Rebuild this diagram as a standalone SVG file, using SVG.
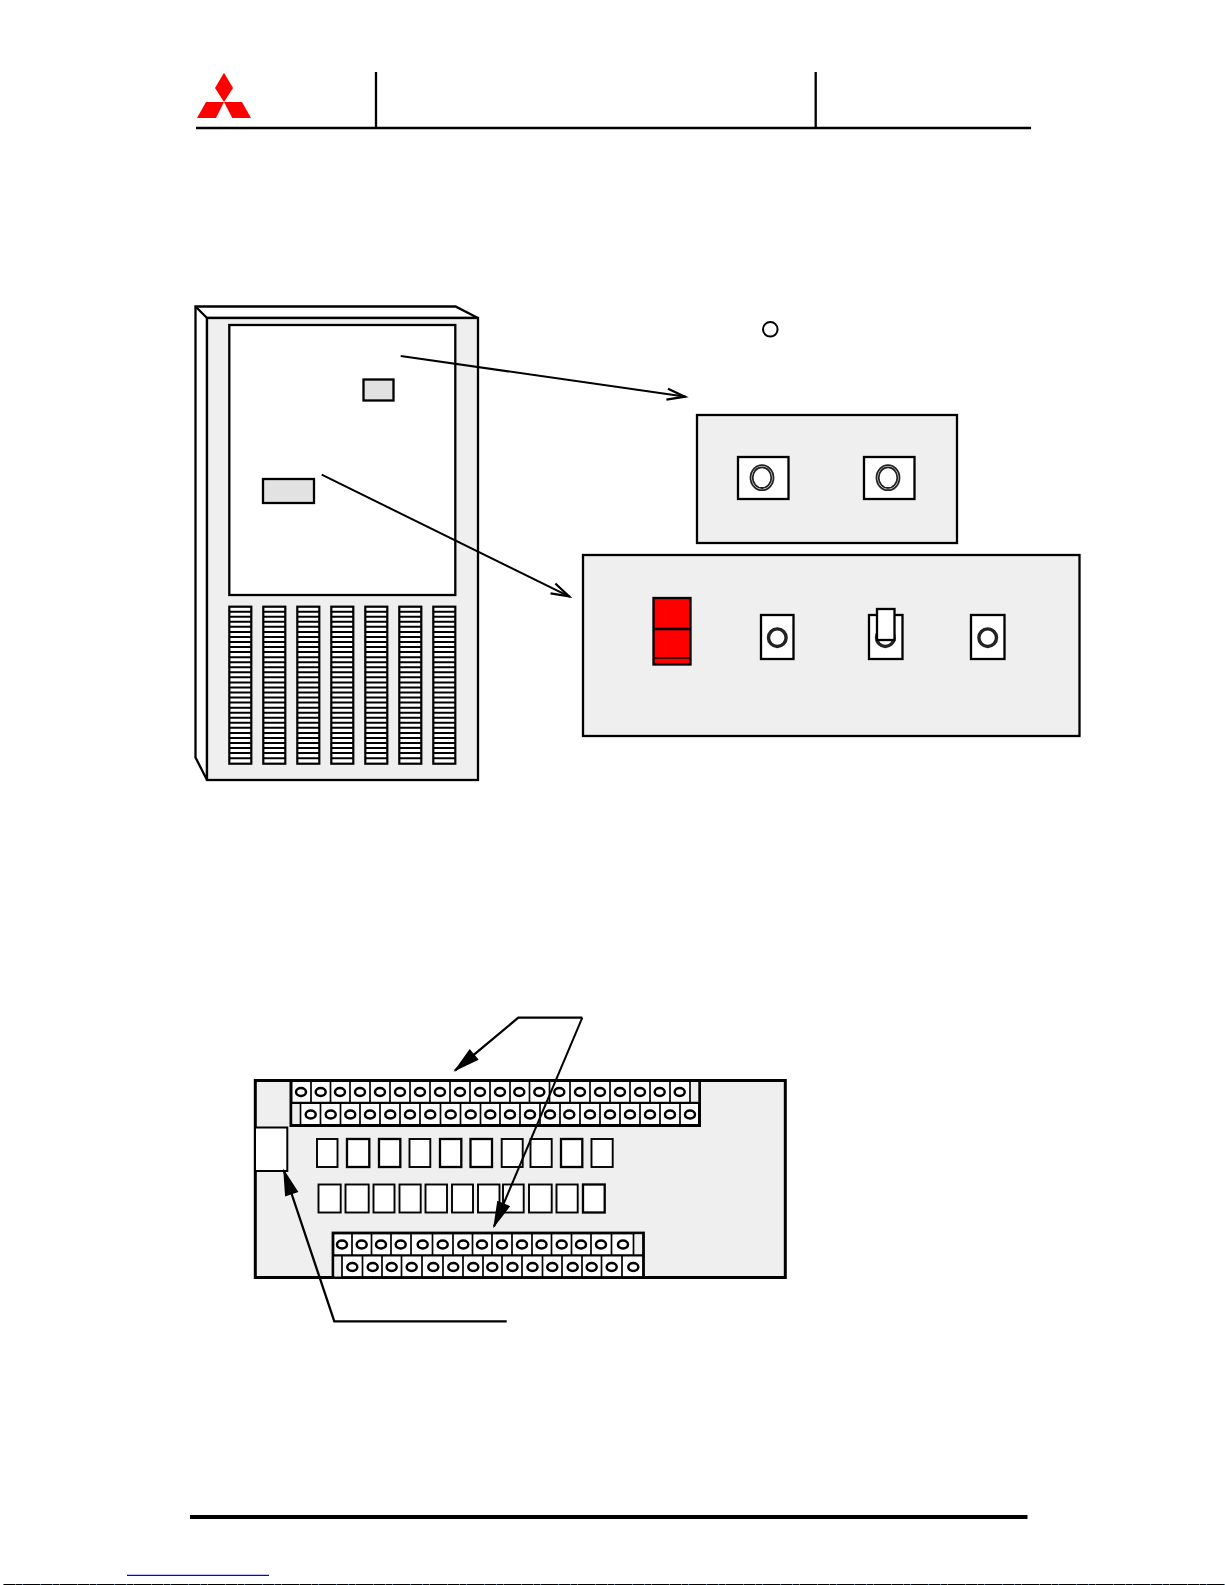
<svg xmlns="http://www.w3.org/2000/svg" xmlns:xlink="http://www.w3.org/1999/xlink" width="1225" height="1585" viewBox="0 0 1225 1585">
<style>
.ln{fill:none;stroke:#000;stroke-width:2.3}
.pn{fill:#efefef;stroke:#000;stroke-width:2.3}
.wh{fill:#fff;stroke:#000;stroke-width:2.3}
.th{fill:#fff;stroke:#000;stroke-width:1.9}
.lg{fill:#e2e2e2;stroke:#000;stroke-width:2.3}
.hole{fill:#fff;stroke:#000;stroke-width:2.5}
.div{fill:none;stroke:#000;stroke-width:1.7}
.ring{fill:none;stroke:#222;stroke-width:1.8}
.ring2{fill:#fff;stroke:#222;stroke-width:3.4}
.logo{fill:#f00}
.ar{fill:none;stroke:#000;stroke-width:2}
.arw{fill:none;stroke:#000;stroke-width:2.3}
</style>
<defs>
<marker id="open" markerUnits="userSpaceOnUse" markerWidth="30" markerHeight="20" refX="0" refY="0" orient="auto" overflow="visible" viewBox="-26 -10 30 20"><path d="M-19,-5.5 L-1,0 L-19,5.5" fill="none" stroke="#000" stroke-width="2.2"/></marker>
<marker id="solid" markerUnits="userSpaceOnUse" markerWidth="34" markerHeight="24" refX="0" refY="0" orient="auto" overflow="visible" viewBox="-29 -12 34 24"><path d="M-25,-7 L2,0 L-25,7 Z" fill="#000"/></marker>
<g id="vent"><rect x="0" y="0" width="22" height="157" fill="#fff" stroke="#000" stroke-width="2.2"/><line x1="11" y1="4" x2="11" y2="155" stroke="#000" stroke-width="22" stroke-dasharray="2 3.05"/></g>
<ellipse id="h" rx="5" ry="4" class="hole"/>
<g id="sw"><ellipse rx="11.5" ry="12.5" class="ring"/><ellipse rx="9.3" ry="10.3" class="ring"/></g>
</defs>
<rect width="1225" height="1585" fill="#fff"/>

<g id="header">
<path class="logo" d="M224,72.7 L233,88 L224,102 L215,88 Z"/>
<path class="logo" d="M206,102 L224,102 L216,118 L197,118 Z"/>
<path class="logo" d="M224,102 L242,102 L251,118 L232.3,118 Z"/>
<path class="ln" d="M196,128 H1031 M376,72 V128 M815.7,72 V128"/>
</g>

<g id="cabinet">
<path class="wh" d="M195.5,306.5 H455.5 L478,318 H207 V780 L195.5,757.5 Z"/>
<path class="ln" d="M195.5,306.5 L207,318"/>
<rect class="pn" x="207" y="318" width="271" height="462"/>
<rect class="wh" x="229.3" y="325" width="226" height="270"/>
<rect class="lg" x="363.5" y="379.5" width="30" height="21"/>
<rect class="lg" x="263" y="479" width="51" height="24"/>
<use xlink:href="#vent" href="#vent" x="229.3" y="606.7"/>
<use xlink:href="#vent" href="#vent" x="263.3" y="606.7"/>
<use xlink:href="#vent" href="#vent" x="297.3" y="606.7"/>
<use xlink:href="#vent" href="#vent" x="331.3" y="606.7"/>
<use xlink:href="#vent" href="#vent" x="365.3" y="606.7"/>
<use xlink:href="#vent" href="#vent" x="399.3" y="606.7"/>
<use xlink:href="#vent" href="#vent" x="433.3" y="606.7"/>
</g>

<g id="lamp"><circle cx="770.3" cy="329.3" r="7.3" fill="#fff" stroke="#000" stroke-width="2"/></g>

<g id="panel-upper">
<rect class="pn" x="697" y="415" width="260" height="128"/>
<rect class="wh" x="738" y="457" width="50.5" height="42"/>
<use xlink:href="#sw" href="#sw" x="762" y="477.7"/>
<rect class="wh" x="864" y="457" width="50.5" height="42"/>
<use xlink:href="#sw" href="#sw" x="888" y="477.7"/>
</g>

<g id="panel-lower">
<rect class="pn" x="583" y="555" width="496.5" height="181"/>
<rect x="653.5" y="598" width="37" height="66.5" fill="#f00" stroke="#000" stroke-width="2.3"/>
<path class="ln" d="M653.5,629 H690.5"/>
<path fill="none" stroke="#000" stroke-width="1.5" d="M653.5,658 H690.5"/>
<rect class="wh" x="761" y="615" width="32.5" height="44"/>
<circle class="ring2" cx="777.3" cy="637.7" r="8.8"/>
<rect class="wh" x="869" y="615" width="33.5" height="44"/>
<circle class="ring2" cx="885.3" cy="637.7" r="8.8"/>
<rect class="wh" x="877" y="609" width="17.5" height="31"/>
<rect class="wh" x="971" y="615" width="33.5" height="44"/>
<circle class="ring2" cx="987.7" cy="637.7" r="8.8"/>
</g>

<g id="terminal-board">
<rect fill="#efefef" stroke="#000" stroke-width="3" x="255.3" y="1080.5" width="530" height="197"/>
<rect fill="#fff" stroke="#000" stroke-width="2" x="255" y="1127.5" width="32.3" height="43.5"/>
<rect class="th" x="317" y="1139" width="20.5" height="28"/>
<rect class="wh" x="347" y="1139" width="22.3" height="28"/>
<rect class="wh" x="379" y="1139" width="21.3" height="28"/>
<rect class="th" x="409.5" y="1139" width="20.8" height="28"/>
<rect class="wh" x="440" y="1139" width="21.3" height="28"/>
<rect class="wh" x="470.5" y="1139" width="21.5" height="28"/>
<rect class="th" x="501.7" y="1139" width="21" height="28"/>
<rect class="th" x="530.5" y="1139" width="21.2" height="28"/>
<rect class="wh" x="561" y="1139" width="21.3" height="28"/>
<rect class="th" x="591.5" y="1139" width="21.2" height="28"/>
<rect class="th" x="318.5" y="1184.5" width="22.2" height="28"/>
<rect class="th" x="345.5" y="1184.5" width="23.2" height="28"/>
<rect class="th" x="373.5" y="1184.5" width="21" height="28"/>
<rect class="th" x="399.5" y="1184.5" width="21.2" height="28"/>
<rect class="th" x="425.5" y="1184.5" width="21.5" height="28"/>
<rect class="th" x="452" y="1184.5" width="21" height="28"/>
<rect class="th" x="478" y="1184.5" width="21.5" height="28"/>
<rect class="th" x="503" y="1184.5" width="20.7" height="28"/>
<rect class="th" x="529" y="1184.5" width="22.7" height="28"/>
<rect class="th" x="556.5" y="1184.5" width="21.2" height="28"/>
<rect class="wh" x="583" y="1184.5" width="21.7" height="28"/>
</g>

<g id="terminal-block-top">
<rect fill="#fff" stroke="#000" stroke-width="3" x="291" y="1080.5" width="408.5" height="45"/>
<rect fill="#efefef" x="691" y="1082" width="7.3" height="20"/>
<rect fill="#efefef" x="292.5" y="1103.5" width="7" height="20.5"/>
<path class="ln" d="M291,1102.8 H699.5"/>
<path class="div" d="M311,1081V1102M330.5,1081V1102M350,1081V1102M370,1081V1102M390,1081V1102M410,1081V1102M430,1081V1102M450,1081V1102M470,1081V1102M490,1081V1102M510,1081V1102M529.5,1081V1102M549.5,1081V1102M570,1081V1102M590,1081V1102M610,1081V1102M630,1081V1102M650,1081V1102M670,1081V1102M690,1081V1102"/>
<path class="div" d="M300.5,1103V1125M320.5,1103V1125M340.5,1103V1125M360,1103V1125M380,1103V1125M400,1103V1125M420,1103V1125M440.5,1103V1125M460.5,1103V1125M480.5,1103V1125M500,1103V1125M520,1103V1125M540,1103V1125M560,1103V1125M580,1103V1125M600,1103V1125M620,1103V1125M640,1103V1125M660,1103V1125M680,1103V1125"/>
<use href="#h" x="301" y="1092"/><use href="#h" x="320.7" y="1092"/><use href="#h" x="340" y="1092"/><use href="#h" x="360" y="1092"/><use href="#h" x="380" y="1092"/><use href="#h" x="400" y="1092"/><use href="#h" x="420" y="1092"/><use href="#h" x="440" y="1092"/><use href="#h" x="460" y="1092"/><use href="#h" x="480" y="1092"/><use href="#h" x="500" y="1092"/><use href="#h" x="519.3" y="1092"/><use href="#h" x="539.3" y="1092"/><use href="#h" x="559.3" y="1092"/><use href="#h" x="580" y="1092"/><use href="#h" x="600" y="1092"/><use href="#h" x="620" y="1092"/><use href="#h" x="640" y="1092"/><use href="#h" x="659.7" y="1092"/><use href="#h" x="679.7" y="1092"/>
<use href="#h" x="310.7" y="1114.5"/><use href="#h" x="330.7" y="1114.5"/><use href="#h" x="350.3" y="1114.5"/><use href="#h" x="370" y="1114.5"/><use href="#h" x="390.3" y="1114.5"/><use href="#h" x="410" y="1114.5"/><use href="#h" x="430.3" y="1114.5"/><use href="#h" x="450.7" y="1114.5"/><use href="#h" x="470.7" y="1114.5"/><use href="#h" x="490.3" y="1114.5"/><use href="#h" x="510" y="1114.5"/><use href="#h" x="530" y="1114.5"/><use href="#h" x="550" y="1114.5"/><use href="#h" x="569.3" y="1114.5"/><use href="#h" x="590" y="1114.5"/><use href="#h" x="610" y="1114.5"/><use href="#h" x="630" y="1114.5"/><use href="#h" x="650" y="1114.5"/><use href="#h" x="670" y="1114.5"/><use href="#h" x="690" y="1114.5"/>
</g>

<g id="terminal-block-bottom">
<rect fill="#fff" stroke="#000" stroke-width="2.8" x="333" y="1233" width="310.5" height="44.5"/>
<rect fill="#efefef" x="634.5" y="1234.5" width="7.5" height="20"/>
<rect fill="#efefef" x="334.5" y="1256.5" width="7" height="20"/>
<path class="ln" d="M333,1255.4 H643.5"/>
<path class="div" d="M352,1234V1255M371.5,1234V1255M391,1234V1255M411,1234V1255M432.5,1234V1255M453,1234V1255M472.5,1234V1255M492,1234V1255M512,1234V1255M532,1234V1255M551.5,1234V1255M571.5,1234V1255M591,1234V1255M611.5,1234V1255M633.5,1234V1255"/>
<path class="div" d="M342,1256V1277M362.5,1256V1277M382,1256V1277M401.5,1256V1277M422,1256V1277M443,1256V1277M463,1256V1277M483,1256V1277M502,1256V1277M522,1256V1277M542.5,1256V1277M562,1256V1277M582,1256V1277M601.5,1256V1277M622,1256V1277"/>
<use href="#h" x="342" y="1244.5"/><use href="#h" x="361.7" y="1244.5"/><use href="#h" x="381" y="1244.5"/><use href="#h" x="400.7" y="1244.5"/><use href="#h" x="422.7" y="1244.5"/><use href="#h" x="442.7" y="1244.5"/><use href="#h" x="463.3" y="1244.5"/><use href="#h" x="482" y="1244.5"/><use href="#h" x="502" y="1244.5"/><use href="#h" x="522" y="1244.5"/><use href="#h" x="541.5" y="1244.5"/><use href="#h" x="561.7" y="1244.5"/><use href="#h" x="581" y="1244.5"/><use href="#h" x="601" y="1244.5"/><use href="#h" x="623" y="1244.5"/>
<use href="#h" x="352.3" y="1267"/><use href="#h" x="372.7" y="1267"/><use href="#h" x="391.7" y="1267"/><use href="#h" x="411.7" y="1267"/><use href="#h" x="433.3" y="1267"/><use href="#h" x="453.3" y="1267"/><use href="#h" x="473.3" y="1267"/><use href="#h" x="492.3" y="1267"/><use href="#h" x="512.5" y="1267"/><use href="#h" x="532.5" y="1267"/><use href="#h" x="552.3" y="1267"/><use href="#h" x="572.7" y="1267"/><use href="#h" x="591.7" y="1267"/><use href="#h" x="611.7" y="1267"/><use href="#h" x="633.3" y="1267"/>
</g>

<g id="connectors">
<path class="ar" marker-end="url(#open)" d="M400.7,356 L686,396.8"/>
<path class="ar" marker-end="url(#open)" d="M321.7,474.7 L570,596.8"/>
<path class="arw" marker-end="url(#solid)" d="M582.3,1017.7 H518.3 L455,1070.5"/>
<path class="ar" marker-end="url(#solid)" d="M582.3,1017.7 L494,1226.5"/>
<path class="arw" marker-end="url(#solid)" d="M506.7,1321.3 H334.3 L283.8,1170.5"/>
</g>

<g id="footer">
<rect x="190" y="1515" width="837.5" height="4" fill="#000"/>
<line x1="127" y1="1575.4" x2="269" y2="1575.4" stroke="#00f" stroke-width="1.2"/>
<line x1="3" y1="1584.5" x2="1225" y2="1584.5" stroke="#000" stroke-width="1"/>
<line x1="3" y1="1584.5" x2="1225" y2="1584.5" stroke="#3a7f9f" stroke-width="1" stroke-dasharray="1 11 1 6 1 17"/>
</g>
</svg>
